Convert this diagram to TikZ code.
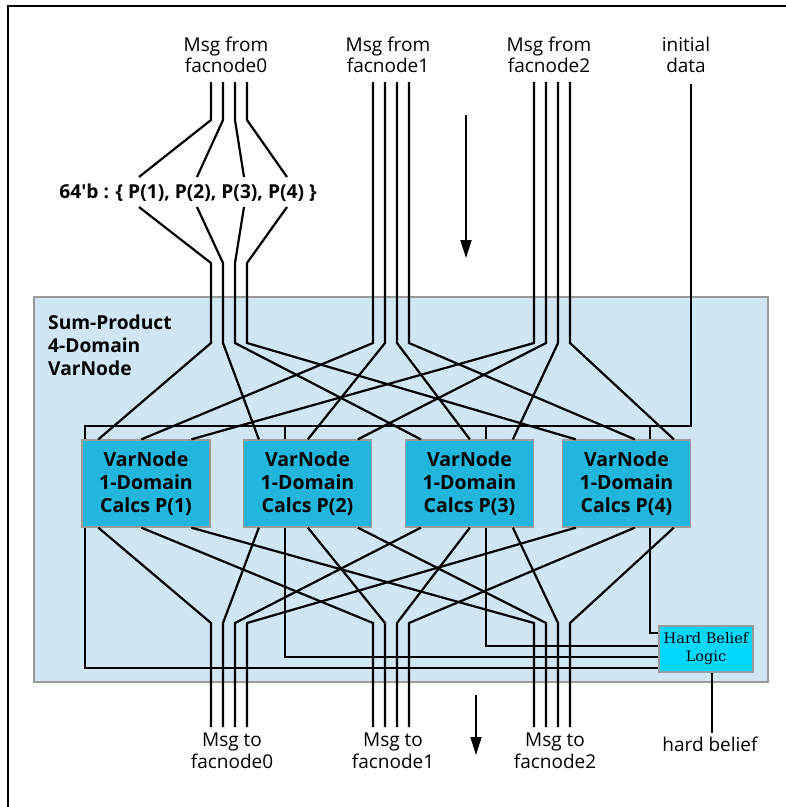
\documentclass[tikz,border=0pt]{standalone}
\usepackage{fontspec}
\setmainfont{Open Sans}
\newfontfamily\hblfont{DejaVu Serif}
\usetikzlibrary{arrows.meta}
\definecolor{domainblue}{HTML}{D0E6F4}
\definecolor{calccyan}{HTML}{23B6DC}
\definecolor{hardcyan}{HTML}{00D9FF}
\definecolor{edgegray}{HTML}{9A9A9A}
\tikzset{
  wire/.style={line width=2.2pt},
  flow/.style={line width=2pt,-{Triangle[length=18pt,width=11pt]}},
  lbl/.style={align=center,inner sep=0pt,font=\fontsize{19}{21.5}\selectfont},
  boldlbl/.style={align=center,inner sep=0pt,font=\fontsize{19.2}{23}\selectfont\bfseries},
  varbox/.style={draw=edgegray,line width=1.3pt,fill=calccyan,minimum width=128pt,
    minimum height=87pt,inner sep=0pt,align=center,font=\fontsize{19.5}{23}\selectfont\bfseries},
  hardbox/.style={draw=edgegray,line width=2pt,fill=hardcyan,minimum width=94pt,
    minimum height=46pt,inner sep=0pt,align=center,font=\fontsize{14.5}{18}\selectfont\hblfont},
}
\begin{document}
\begin{tikzpicture}[x=1pt,y=-1pt]
\useasboundingbox (0,0) rectangle (786,807);
\draw[line width=2pt] (8,807) -- (8,6) -- (786,6);
\draw[fill=domainblue,draw=edgegray,line width=1.2pt] (34,297) rectangle (768,682);
\node[boldlbl,align=left,anchor=north west] (title) at (48,315) {Sum-Product\\4-Domain\\VarNode};

% labels
\node[lbl] (from0) at (226,55) {Msg from\\facnode0};
\node[lbl] (from1) at (388,55) {Msg from\\facnode1};
\node[lbl] (from2) at (549,55) {Msg from\\facnode2};
\node[lbl] (init) at (686,55) {initial\\data};
\node[boldlbl] (pvec) at (188,193) {64\textquotesingle b : \{ P(1), P(2), P(3), P(4) \}};
\node[lbl] (to0) at (232,751) {Msg to\\facnode0};
\node[lbl] (to1) at (393,751) {Msg to\\facnode1};
\node[lbl] (to2) at (555,751) {Msg to\\facnode2};
\node[lbl] (hard) at (710,744) {hard belief};

% calc blocks
\node[varbox] (v1) at (146,483.5) {VarNode\\1-Domain\\Calcs P(1)};
\node[varbox] (v2) at (307.5,483.5) {VarNode\\1-Domain\\Calcs P(2)};
\node[varbox] (v3) at (469.5,483.5) {VarNode\\1-Domain\\Calcs P(3)};
\node[varbox] (v4) at (626.5,483.5) {VarNode\\1-Domain\\Calcs P(4)};

% wire columns
\foreach \g/\x in {0/211,1/373,2/534}{
  \foreach \k in {1,...,4}{
    \coordinate (f\g t\k) at ({\x+12*(\k-1)},82);
    \coordinate (f\g b\k) at ({\x+12*(\k-1)},343);
    \coordinate (m\g b\k) at ({\x+12*(\k-1)},623);
    \coordinate (m\g e\k) at ({\x+12*(\k-1)},727);
  }
}
\foreach \k/\xt/\xb in {1/139/211,2/197/223,3/244/235,4/287/247}{
  \coordinate (f0u\k) at (\xb,120);
  \coordinate (pt\k) at (\xt,177);
  \coordinate (pb\k) at (\xt,207);
  \coordinate (f0v\k) at (\xb,263);
}

% ports on the blocks
\foreach \k/\a/\b/\c/\d in {1/17/60/110/4,2/16/65/115/42,3/16/65/108/81,4/14/73/112/88}{
  \coordinate (v\k-0) at ([xshift=\a pt]v\k.north west);
  \coordinate (v\k-1) at ([xshift=\b pt]v\k.north west);
  \coordinate (v\k-2) at ([xshift=\c pt]v\k.north west);
  \coordinate (v\k-d) at ([xshift=\d pt]v\k.north west);
  \coordinate (w\k-0) at ([xshift=\a pt]v\k.south west);
  \coordinate (w\k-1) at ([xshift=\b pt]v\k.south west);
  \coordinate (w\k-2) at ([xshift=\c pt]v\k.south west);
  \coordinate (w\k-d) at ([xshift=\d pt]v\k.south west);
}

% incoming messages
\foreach \k in {1,...,4}{
  \draw[wire] (f0t\k) -- (f0u\k) -- (pt\k);
  \draw[wire] (pb\k) -- (f0v\k) -- (f0b\k) -- (v\k-0);
  \draw[wire] (f1t\k) -- (f1b\k) -- (v\k-1);
  \draw[wire] (f2t\k) -- (f2b\k) -- (v\k-2);
}

% initial data bus
\coordinate (idat) at (691,84);
\coordinate (bus) at (691,426);
\draw[wire] (idat) -- (bus) -- (v1-d |- bus) -- (v1-d);
\foreach \k in {2,3,4}
  \draw[wire] (v\k-d |- bus) -- (v\k-d);

% hard belief
\node[hardbox] (hbl) at (706,649) {Hard Belief\\Logic};
\coordinate (h4) at ([yshift=16pt]hbl.west);
\coordinate (h3) at ([yshift=3pt]hbl.west);
\coordinate (h2) at ([yshift=-8pt]hbl.west);
\coordinate (h1) at ([yshift=-19pt]hbl.west);

% outgoing messages
\foreach \k in {1,...,4}{
  \draw[wire] (w\k-0) -- (m0b\k) -- (m0e\k);
  \draw[wire] (w\k-1) -- (m1b\k) -- (m1e\k);
  \draw[wire] (w\k-2) -- (m2b\k) -- (m2e\k);
  \draw[wire] (w\k-d) |- (h\k);
}
\coordinate (hbout) at ([xshift=6pt]hbl.south);
\coordinate (hbend) at (712,733);
\draw[wire] (hbout) -- (hbend);

% direction of flow
\coordinate (dn1) at (466,115);
\coordinate (dn1e) at (466,258);
\coordinate (dn2) at (476,695);
\coordinate (dn2e) at (476,755);
\draw[flow] (dn1) -- (dn1e);
\draw[flow,line width=1.5pt] (dn2) -- (dn2e);
\end{tikzpicture}
\end{document}
